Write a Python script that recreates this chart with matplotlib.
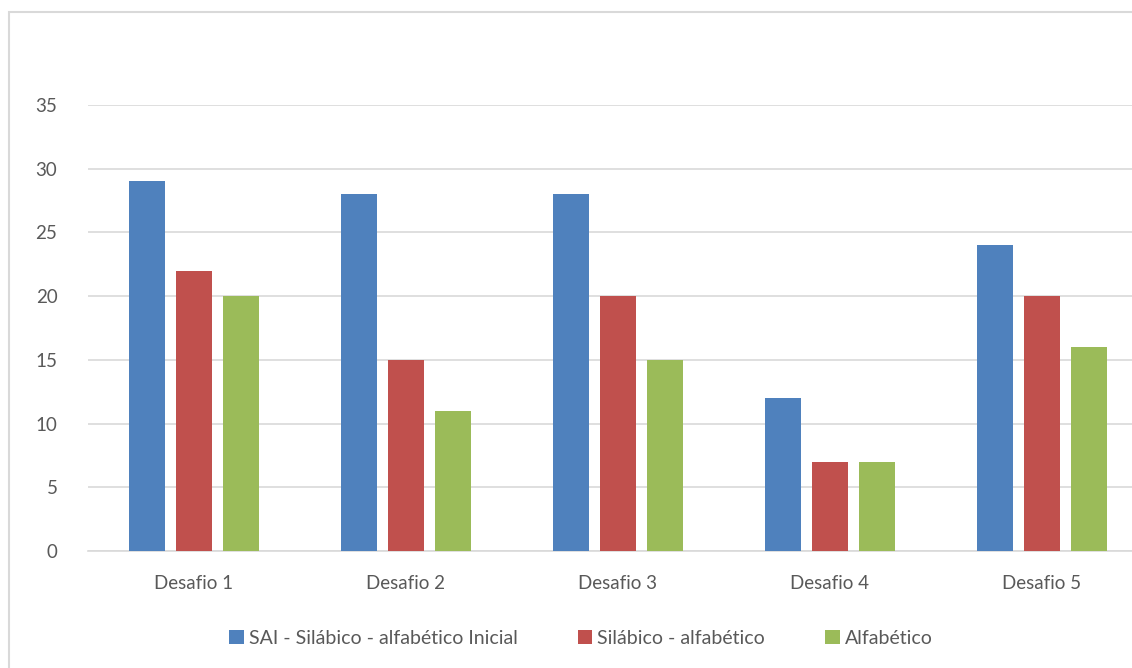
import matplotlib.pyplot as plt
import matplotlib.patches as patches
import numpy as np

categories = ["Desafio 1", "Desafio 2", "Desafio 3", "Desafio 4", "Desafio 5"]
sai_inicial = [29, 28, 28, 12, 24]
silabico_alfabetico = [22, 15, 20, 7, 20]
alfabetico = [20, 11, 15, 7, 16]
series_names = ["SAI - Silábico - alfabético Inicial", "Silábico - alfabético", "Alfabético"]
yticks = [0, 5, 10, 15, 20, 25, 30, 35]

colors = ["#4F81BD", "#C0504D", "#9BBB59"]
text_color = "#595959"
grid_color = "#D9D9D9"

plt.rcParams['font.family'] = ['Lato', 'DejaVu Sans']

fig = plt.figure(figsize=(11.32, 6.68), dpi=100)
ax = fig.add_axes([0.0777, 0.1751, 0.9364, 0.6677])

# moldura do gráfico (cortada à direita e embaixo)
fig.patches.append(patches.Rectangle((9 / 1132, -0.1), 1.2, 1 - 12 / 668 + 0.1,
                                     transform=fig.transFigure, fill=False,
                                     edgecolor="#D9D9D9", linewidth=1.5))

x = np.arange(len(categories))
width = 0.17
gap = 0.05
all_series = [sai_inicial, silabico_alfabetico, alfabetico]
for i, values in enumerate(all_series):
    offset = (i - 1) * (width + gap)
    ax.bar(x + offset, values, width, color=colors[i], label=series_names[i], zorder=3)

ax.set_xlim(-0.5, len(categories) - 0.5)
ax.set_ylim(0, 35)
ax.set_yticks(yticks)
ax.set_xticks(x)
ax.set_xticklabels(categories)
ax.yaxis.grid(True, color=grid_color, linewidth=1.2, zorder=0)
ax.set_axisbelow(True)

for side in ["top", "right", "left"]:
    ax.spines[side].set_visible(False)
ax.spines["bottom"].set_color(grid_color)
ax.spines["bottom"].set_linewidth(1.2)
ax.tick_params(axis="both", length=0, labelsize=13.5, colors=text_color)
ax.tick_params(axis="y", pad=22)
ax.tick_params(axis="x", pad=17)

fig.legend(loc="center", bbox_to_anchor=(581 / 1132, 1 - 638 / 668), ncol=3,
           frameon=False, fontsize=14, handlelength=0.75, handleheight=0.75,
           handletextpad=0.25, columnspacing=3.1, labelcolor=text_color)

plt.savefig("out.png", dpi=100)
